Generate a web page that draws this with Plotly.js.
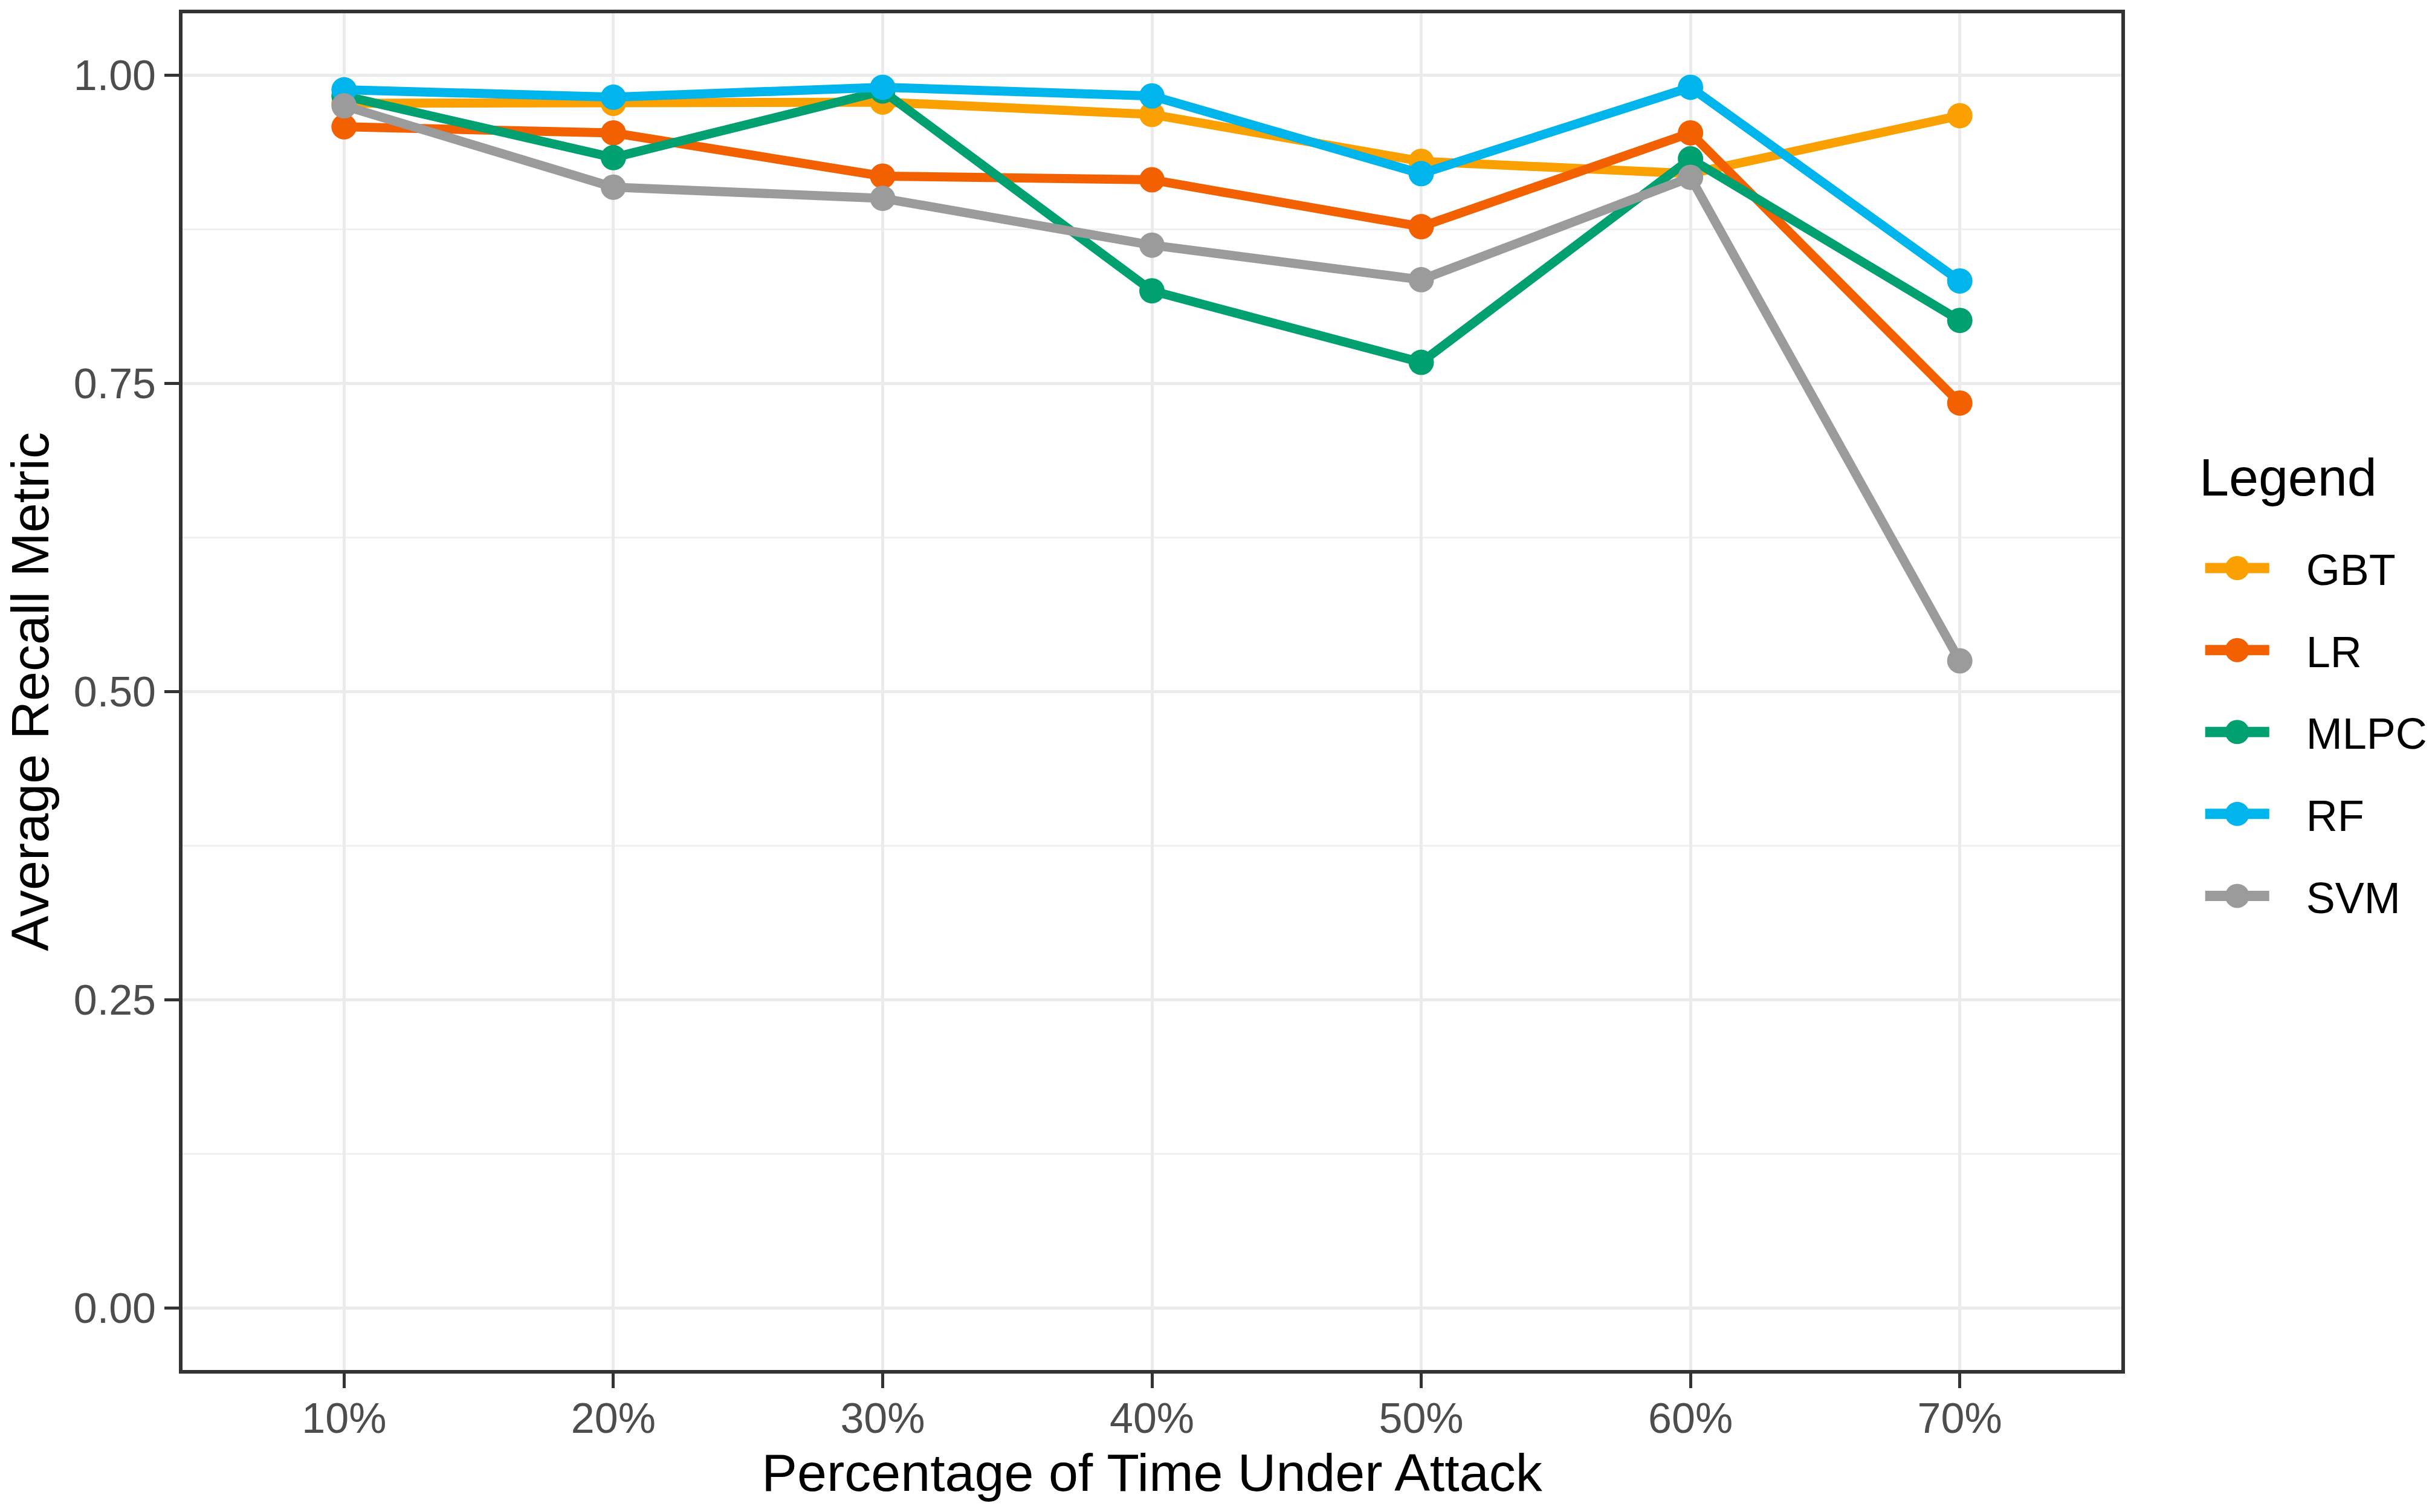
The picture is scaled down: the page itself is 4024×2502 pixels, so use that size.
<!DOCTYPE html>
<html>
<head>
<meta charset="utf-8">
<script src="https://cdn.plot.ly/plotly-3.0.1.min.js"></script>
<style>
  html, body { margin: 0; padding: 0; background: #ffffff; }
  #chart { width: 4024px; height: 2502px; }
</style>
</head>
<body>
<div id="chart"></div>
<script>
// ---- data ----
const categories = ["10%", "20%", "30%", "40%", "50%", "60%", "70%"];
const seriesNames = ["GBT", "LR", "MLPC", "RF", "SVM"];
const gbt  = [0.977, 0.977, 0.978, 0.968, 0.930, 0.920, 0.967];
const lr   = [0.958, 0.953, 0.918, 0.915, 0.877, 0.953, 0.734];
const mlpc = [0.983, 0.933, 0.987, 0.825, 0.767, 0.932, 0.801];
const rf   = [0.988, 0.982, 0.990, 0.983, 0.920, 0.990, 0.833];
const svm  = [0.975, 0.909, 0.900, 0.862, 0.834, 0.917, 0.525];
const yTickVals = [0, 0.25, 0.5, 0.75, 1.0];
const yTickText = ["0.00", "0.25", "0.50", "0.75", "1.00"];
const legendTitle = "Legend";

const seriesValues = [gbt, lr, mlpc, rf, svm];
const seriesColors = ["#FAA000", "#F26000", "#00A070", "#00B4EC", "#9B9B9B"];

const FONT = "Liberation Sans, Arial, sans-serif";

const traces = seriesNames.map((name, i) => ({
  type: "scatter",
  mode: "lines+markers",
  name: name,
  legendgroup: name,
  x: categories,
  y: seriesValues[i],
  line: { color: seriesColors[i], width: 15 },
  marker: { color: seriesColors[i], size: 42, symbol: "circle" },
  hoverinfo: "skip"
}));

const layout = {
  width: 4024,
  height: 2502,
  paper_bgcolor: "#ffffff",
  plot_bgcolor: "#ffffff",
  margin: { l: 302, r: 514, t: 22, b: 235, pad: 0, autoexpand: false },
  font: { family: FONT, color: "#000000" },
  showlegend: true,
  legend: {
    x: 1.037,
    xanchor: "left",
    y: 0.6148,
    yanchor: "top",
    font: { family: FONT, size: 72, color: "#000000" },
    tracegroupgap: 39,
    itemwidth: 177,
    bgcolor: "rgba(0,0,0,0)",
    borderwidth: 0
  },
  annotations: [{
    text: legendTitle,
    xref: "paper", yref: "paper",
    x: 1.0396, y: 0.658,
    xanchor: "left", yanchor: "middle",
    showarrow: false,
    font: { family: FONT, size: 88, color: "#000000" }
  }],
  xaxis: {
    type: "category",
    categoryorder: "array",
    categoryarray: categories,
    range: [-0.6, 6.6],
    showgrid: true,
    gridcolor: "#EBEBEB",
    gridwidth: 5,
    showline: true,
    linecolor: "#333333",
    linewidth: 6,
    mirror: true,
    ticks: "outside",
    ticklen: 24,
    tickwidth: 5,
    tickcolor: "#333333",
    ticklabelstandoff: -10,
    tickfont: { family: FONT, size: 70, color: "#4D4D4D" },
    zeroline: false,
    title: { text: "Percentage of Time Under Attack", font: { family: FONT, size: 88, color: "#000000" }, standoff: 22 }
  },
  yaxis: {
    range: [-0.05, 1.05],
    tickvals: yTickVals,
    ticktext: yTickText,
    showgrid: true,
    gridcolor: "#EBEBEB",
    gridwidth: 5,
    minor: { dtick: 0.125, tick0: 0.125, showgrid: true, gridcolor: "#F0F0F0", gridwidth: 3, ticks: "" },
    showline: true,
    linecolor: "#333333",
    linewidth: 6,
    mirror: true,
    ticks: "outside",
    ticklen: 24,
    tickwidth: 5,
    tickcolor: "#333333",
    tickfont: { family: FONT, size: 70, color: "#4D4D4D" },
    zeroline: false,
    title: { text: "Average Recall Metric", font: { family: FONT, size: 88, color: "#000000" }, standoff: 20 }
  }
};

function enlargeLegendKeys() {
  // ggplot-style larger legend keys (Plotly caps legend symbol sizes)
  document.querySelectorAll("g.traces").forEach(g => {
    const txt = g.querySelector("text.legendtext");
    if (!txt) return;
    const tx = parseFloat(txt.getAttribute("x")) || 0;
    g.querySelectorAll(".legendlines path").forEach(line => {
      line.setAttribute("d", "M" + (tx - 167) + ",0h106");
      line.style.strokeWidth = "17px";
    });
    g.querySelectorAll(".legendpoints path").forEach(p => {
      p.setAttribute("transform", "translate(" + (tx - 114) + ",0) scale(2.5)");
    });
  });
}

const gd = document.getElementById("chart");
Plotly.newPlot(gd, traces, layout, { staticPlot: true }).then(() => {
  enlargeLegendKeys();
  gd.on && gd.on("plotly_afterplot", enlargeLegendKeys);
  setTimeout(enlargeLegendKeys, 50);
  setTimeout(enlargeLegendKeys, 300);
  setTimeout(enlargeLegendKeys, 1000);
});
</script>
</body>
</html>
